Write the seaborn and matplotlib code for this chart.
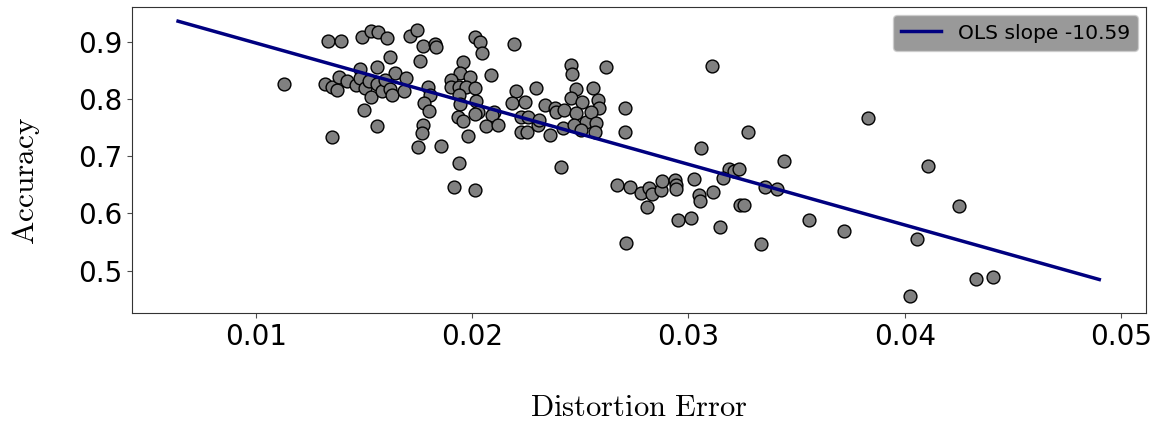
import numpy as np
import pandas as pd
import matplotlib
matplotlib.use("Agg")
import matplotlib.pyplot as plt
import seaborn as sns

# ---- data ----
distortion = [
    0.0113, 0.01334, 0.01392, 0.01489, 0.01530, 0.01565, 0.01607, 0.01711, 0.01745, 0.01773,
    0.01827, 0.01835, 0.01619, 0.01758, 0.01562, 0.01480, 0.01642, 0.01319, 0.01353, 0.01373,
    0.01385, 0.01419, 0.01462, 0.01480, 0.01504, 0.01523, 0.01531, 0.01558, 0.01581, 0.01596,
    0.01619, 0.01627, 0.01696, 0.01684, 0.01796, 0.01807, 0.01778, 0.01801, 0.01500, 0.01558,
    0.01774, 0.01767, 0.01350, 0.01750,
    0.02012, 0.02035, 0.02047, 0.02192, 0.01958, 0.01942, 0.01992, 0.02086, 0.01904, 0.01901,
    0.01939, 0.01973, 0.02013, 0.01939, 0.01942, 0.02020, 0.02025, 0.02012, 0.01935, 0.01956,
    0.02101, 0.02094, 0.02066, 0.02121, 0.01983, 0.01858, 0.02205, 0.02186, 0.02246, 0.02294,
    0.02228, 0.02258, 0.02228, 0.02255, 0.02304, 0.02308, 0.02336, 0.02381, 0.02389, 0.02424,
    0.02358, 0.02420, 0.02459, 0.02462, 0.02617, 0.02478, 0.02558, 0.02459, 0.02510, 0.02581,
    0.02585, 0.02482, 0.02528, 0.02551, 0.02574, 0.02469, 0.02505, 0.02567,
    0.01939, 0.01916, 0.02012, 0.02409, 0.02669,
    0.02708, 0.02709, 0.03275, 0.03056, 0.03444, 0.03187, 0.03210, 0.03233, 0.03159, 0.02731,
    0.02782, 0.02816, 0.02833, 0.02871, 0.02877, 0.02936, 0.02944, 0.02941, 0.03025, 0.03047,
    0.03055, 0.03116, 0.03352, 0.03410, 0.03239, 0.03259, 0.02810, 0.02954, 0.03013, 0.03144,
    0.02713, 0.03336,
    0.03829, 0.04106, 0.04249, 0.03556, 0.03718, 0.04059, 0.04328, 0.04410, 0.04025, 0.03111,
]
accuracy = [
    0.826, 0.901, 0.901, 0.909, 0.919, 0.916, 0.906, 0.910, 0.920, 0.893,
    0.896, 0.890, 0.874, 0.866, 0.856, 0.852, 0.846, 0.826, 0.821, 0.816,
    0.839, 0.832, 0.824, 0.836, 0.819, 0.832, 0.804, 0.826, 0.814, 0.833,
    0.817, 0.807, 0.836, 0.813, 0.820, 0.807, 0.792, 0.779, 0.781, 0.753,
    0.755, 0.741, 0.734, 0.716,
    0.908, 0.899, 0.881, 0.896, 0.865, 0.846, 0.839, 0.841, 0.833, 0.820,
    0.820, 0.820, 0.819, 0.807, 0.791, 0.797, 0.778, 0.774, 0.768, 0.762,
    0.778, 0.772, 0.752, 0.755, 0.736, 0.718, 0.813, 0.792, 0.794, 0.819,
    0.768, 0.768, 0.742, 0.743, 0.755, 0.763, 0.789, 0.784, 0.777, 0.781,
    0.737, 0.749, 0.859, 0.844, 0.855, 0.817, 0.819, 0.801, 0.795, 0.798,
    0.785, 0.775, 0.760, 0.778, 0.758, 0.755, 0.746, 0.743,
    0.688, 0.646, 0.641, 0.681, 0.650,
    0.784, 0.742, 0.742, 0.714, 0.692, 0.677, 0.674, 0.677, 0.662, 0.646,
    0.635, 0.644, 0.634, 0.641, 0.656, 0.658, 0.650, 0.642, 0.660, 0.633,
    0.622, 0.638, 0.647, 0.642, 0.614, 0.615, 0.612, 0.588, 0.592, 0.577,
    0.548, 0.547,
    0.767, 0.683, 0.613, 0.589, 0.569, 0.555, 0.486, 0.489, 0.455, 0.858,
]

ols_slope = -10.59
ols_intercept = 1.0035          # accuracy at distortion = 0
fit_x = [0.0064, 0.0490]        # span of the fitted line

x_ticks = [0.01, 0.02, 0.03, 0.04, 0.05]
y_ticks = [0.5, 0.6, 0.7, 0.8, 0.9]
x_label = r"$\mathrm{Distortion\ Error}$"
y_label = r"$\mathrm{Accuracy}$"
legend_label = f"OLS slope {ols_slope:.2f}"

# ---- figure ----
plt.rcParams["mathtext.fontset"] = "cm"
df = pd.DataFrame({"Distortion Error": distortion, "Accuracy": accuracy})
fit_df = pd.DataFrame({"x": fit_x,
                       "y": [ols_intercept + ols_slope * v for v in fit_x]})

fig = plt.figure(figsize=(11.61, 4.21), dpi=100)
ax = fig.add_axes([132 / 1161, (421 - 313.3) / 421,
                   (1146 - 132) / 1161, (313.3 - 7.3) / 421])

sns.scatterplot(data=df, x="Distortion Error", y="Accuracy", ax=ax,
                color="gray", edgecolor="black", linewidth=1.0, s=85,
                zorder=2)
sns.lineplot(data=fit_df, x="x", y="y", ax=ax, color="navy", linewidth=2.5,
             label=legend_label, zorder=3)

ax.set_xlim(0.00427, 0.05116)
ax.set_ylim(0.4256, 0.9600)
ax.set_xticks(x_ticks)
ax.set_yticks(y_ticks)
ax.set_xticklabels([f"{t:.2f}" for t in x_ticks])
ax.set_yticklabels([f"{t:.1f}" for t in y_ticks])
ax.tick_params(labelsize=20, color="0.3")
for sp in ax.spines.values():
    sp.set_color("0.2")
ax.set_xlabel(x_label, fontsize=22, labelpad=30)
ax.set_ylabel(y_label, fontsize=22.5)
ax.yaxis.set_label_coords(-0.089, 0.432)

leg = ax.legend(loc="upper right", fontsize=14.6, facecolor="gray",
                framealpha=0.8, edgecolor="0.8", handlelength=2.0,
                borderaxespad=0.4)

fig.savefig("out.png", dpi=100)
